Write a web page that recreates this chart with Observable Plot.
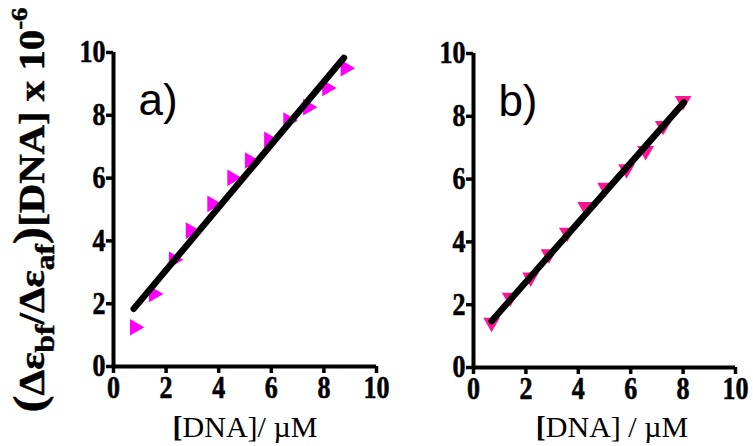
<!DOCTYPE html>
<html><head><meta charset="utf-8">
<script src="https://cdn.jsdelivr.net/npm/d3@7"></script>
<script src="https://cdn.jsdelivr.net/npm/@observablehq/plot@0.6"></script>
<style>
html,body{margin:0;padding:0;background:#fff;}
#chart{position:relative;width:753px;height:446px;overflow:hidden;background:#fff;}
#chart svg{position:absolute;top:0;}
</style></head><body><div id="chart"></div>
<script>
// ---- data ----
const tickValues = [0, 2, 4, 6, 8, 10];
// panel a) points
const aX = [0.81, 1.53, 2.29, 2.93, 3.75, 4.51, 5.18, 5.91, 6.64, 7.39, 8.12, 8.82];
const aY = [1.25, 2.31, 3.40, 4.33, 5.18, 6.01, 6.56, 7.22, 7.83, 8.26, 8.87, 9.50];
// panel a) fit line endpoints
const aFitX = [0.77, 8.76];
const aFitY = [1.84, 9.83];
// panel b) points
const bX = [0.69, 1.40, 2.18, 2.88, 3.58, 4.28, 5.04, 5.84, 6.57, 7.24, 8.00];
const bY = [1.43, 2.23, 2.87, 3.61, 4.30, 5.12, 5.73, 6.32, 6.90, 7.70, 8.49];
// panel b) fit line endpoints
const bFitX = [0.69, 8.03];
const bFitY = [1.48, 8.44];
const panelNames = ["a)", "b)"];
const xLabels = ["[DNA]/ \u00b5M", "[DNA] / \u00b5M"];

function pairs(xs, ys) { return xs.map((x, i) => ({x, y: ys[i]})); }

function squeeze(svg, sx) {
  const tickStrings = new Set(tickValues.map(String));
  svg.querySelectorAll("text").forEach(el => {
    if (el.querySelector("tspan")) return;
    if (!tickStrings.has(el.textContent)) return;
    const t = el.getAttribute("transform") || "";
    el.setAttribute("transform", t + ` scale(${sx},1)`);
  });
}

const tickFont = {fontFamily: "Liberation Serif", fontWeight: "bold", fontSize: 31, fill: "black", stroke: "black", strokeWidth: 0.6};

function panel({xs, ys, fx, fy, color, rotate, name, w, ml, mr, mt, mb}) {
  return Plot.plot({
    width: w, height: 446,
    marginLeft: ml, marginRight: mr, marginTop: mt, marginBottom: mb,
    style: {fontFamily: "Liberation Serif", background: "transparent", overflow: "visible"},
    x: {domain: [0, 10]},
    y: {domain: [0, 10]},
    marks: [
      Plot.dot(pairs(xs, ys), {x: "x", y: "y", symbol: "triangle", rotate, r: 6.2, fill: color, stroke: "none"}),
      Plot.line(pairs(fx, fy), {x: "x", y: "y", stroke: "black", strokeWidth: 6.5, strokeLinecap: "round"}),
      Plot.ruleX([0], {stroke: "black", strokeWidth: 4}),
      Plot.ruleY([0], {stroke: "black", strokeWidth: 4}),
      Plot.axisX(tickValues, {tickSize: 7, strokeWidth: 3.5, label: null, tickFormat: () => "", stroke: "black"}),
      Plot.axisY(tickValues, {tickSize: 7, strokeWidth: 3.5, label: null, tickFormat: () => "", stroke: "black"}),
      Plot.text(tickValues, {x: d => d, y: 0, dy: 9, lineAnchor: "top", textAnchor: "middle", text: d => String(d), ...tickFont}),
      Plot.text(tickValues, {x: 0, y: d => d, dx: -8, lineAnchor: "middle", textAnchor: "end", text: d => String(d), ...tickFont}),
      Plot.text([name], {x: 0.95, y: 8.0, fontFamily: "Liberation Sans", fontSize: 44, textAnchor: "start", lineAnchor: "bottom", fill: "black"})
    ]
  });
}

const chart = document.getElementById("chart");

const svgA = panel({xs: aX, ys: aY, fx: aFitX, fy: aFitY, color: "#ff00ff", rotate: 90, name: panelNames[0],
  w: 390, ml: 113, mr: 14, mt: 52, mb: 80});
svgA.style.left = "0px";
chart.appendChild(svgA);

const svgB = panel({xs: bX, ys: bY, fx: bFitX, fy: bFitY, color: "#ff1493", rotate: 180, name: panelNames[1],
  w: 363, ml: 83, mr: 18, mt: 53, mb: 79});
svgB.style.left = "390px";
chart.appendChild(svgB);

squeeze(svgA, 0.84);
squeeze(svgB, 0.84);

// x-axis titles
function xTitle(svg, cx, text) {
  const t = d3.select(svg).append("text")
    .attr("x", cx).attr("y", 437)
    .attr("text-anchor", "middle")
    .attr("font-family", "Liberation Serif")
    .attr("font-size", 30)
    .attr("fill", "black");
  t.append("tspan").attr("font-weight", "bold").text(text[0]);
  t.append("tspan").text(text.slice(1));
}
xTitle(svgA, 245, xLabels[0]);
xTitle(svgB, 222, xLabels[1]);

// y-axis title
const yt = d3.select(svgA).append("text")
  .attr("transform", "translate(44,210) rotate(-90)")
  .attr("text-anchor", "middle")
  .attr("font-family", "Liberation Serif")
  .attr("font-weight", "bold")
  .attr("font-size", 35)
  .attr("fill", "black")
  .attr("stroke", "black")
  .attr("stroke-width", 0.5)
  .attr("textLength", 405)
  .attr("lengthAdjust", "spacingAndGlyphs");
yt.append("tspan").attr("font-size", 44).text("(");
yt.append("tspan").text("\u0394\u03b5");
yt.append("tspan").attr("font-size", 27).attr("dy", 10).text("bf");
yt.append("tspan").attr("dy", -10).text("/\u0394\u03b5");
yt.append("tspan").attr("font-size", 27).attr("dy", 10).text("af");
yt.append("tspan").attr("font-size", 44).attr("dy", -10).text(")");
yt.append("tspan").text("[DNA] x 10");
yt.append("tspan").attr("font-size", 23).attr("dy", -17).text("-6");
</script></body></html>
